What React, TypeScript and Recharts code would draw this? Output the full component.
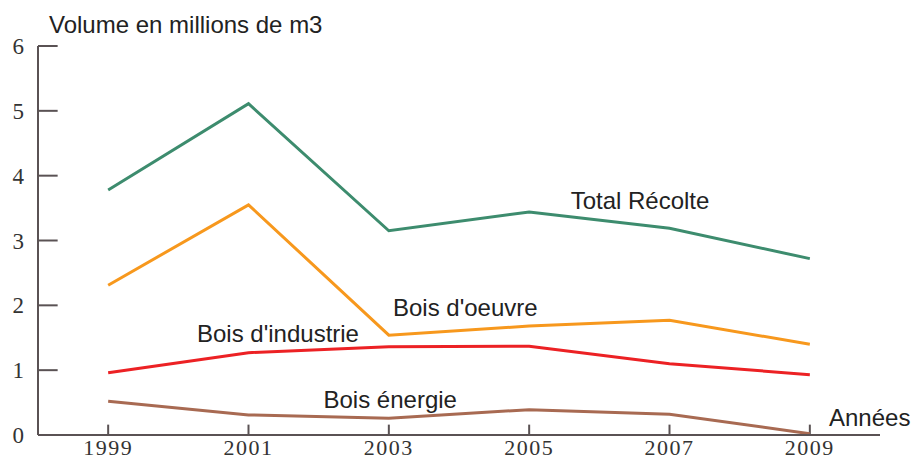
import React from 'react';
import { LineChart, Line, XAxis, YAxis, ReferenceLine, ReferenceDot } from 'recharts';

const years = [1999, 2001, 2003, 2005, 2007, 2009];
const totalRecolte = [3.78, 5.11, 3.15, 3.44, 3.19, 2.72];
const boisOeuvre = [2.31, 3.55, 1.54, 1.68, 1.77, 1.40];
const boisIndustrie = [0.96, 1.27, 1.36, 1.37, 1.10, 0.93];
const boisEnergie = [0.52, 0.31, 0.26, 0.39, 0.32, 0.02];
const yTicks = [0, 1, 2, 3, 4, 5, 6];

const data = years.map((y, i) => ({
  year: y,
  total: totalRecolte[i],
  oeuvre: boisOeuvre[i],
  industrie: boisIndustrie[i],
  energie: boisEnergie[i],
}));

const AXIS = '#5a5254';
const sans = '"Liberation Sans", Arial, sans-serif';
const serif = '"Liberation Serif", "Times New Roman", serif';

const seriesLabels = [
  { text: 'Total Récolte', x: 2006.58, y: 3.61 },
  { text: "Bois d'oeuvre", x: 2004.09, y: 1.96 },
  { text: "Bois d'industrie", x: 2001.42, y: 1.57 },
  { text: 'Bois énergie', x: 2003.02, y: 0.55 },
];

export default function App() {
  return (
    <div style={{ position: 'fixed', left: 0, top: 0, width: 911, height: 459, background: '#fff' }}>
      <LineChart width={911} height={459} data={data} margin={{ top: 46, right: 31, bottom: 0, left: 0 }}>
        <XAxis
          dataKey="year"
          type="number"
          domain={[1998, 2010]}
          ticks={years}
          allowDataOverflow
          height={24}
          stroke={AXIS}
          strokeWidth={2}
          tickLine={false}
          tickSize={0}
          tickMargin={4}
          tick={{ fill: '#333', fontFamily: serif, fontSize: 22, letterSpacing: 1.5 }}
        />
        <YAxis
          domain={[0, 6]}
          ticks={yTicks}
          width={38}
          stroke={AXIS}
          strokeWidth={2}
          tickLine={false}
          tickSize={0}
          tickMargin={14}
          tick={{ fill: '#333', fontFamily: serif, fontSize: 23 }}
        />
        {yTicks.map((t) => (
          <ReferenceLine key={'yt' + t} segment={[{ x: 1998, y: t }, { x: 1998.28, y: t }]} stroke={AXIS} strokeWidth={2} ifOverflow="visible" />
        ))}
        {years.map((y) => (
          <ReferenceLine key={'xt' + y} segment={[{ x: y, y: 0 }, { x: y, y: 0.16 }]} stroke={AXIS} strokeWidth={2} ifOverflow="visible" />
        ))}
        <Line dataKey="total" stroke="#3d8c6e" strokeWidth={3} dot={false} isAnimationActive={false} />
        <Line dataKey="oeuvre" stroke="#f7981d" strokeWidth={3} dot={false} isAnimationActive={false} />
        <Line dataKey="industrie" stroke="#ec2124" strokeWidth={3} dot={false} isAnimationActive={false} />
        <Line dataKey="energie" stroke="#a86a52" strokeWidth={3} dot={false} isAnimationActive={false} />
        {seriesLabels.map((l) => (
          <ReferenceDot
            key={l.text}
            x={l.x}
            y={l.y}
            r={0}
            ifOverflow="visible"
            label={{ value: l.text, position: 'center', fill: '#222', fontFamily: sans, fontSize: 24 }}
          />
        ))}
      </LineChart>
      <div style={{ position: 'absolute', left: 49, top: 11, fontFamily: sans, fontSize: 24, color: '#222', whiteSpace: 'nowrap', lineHeight: '28px' }}>
        Volume en millions de m3
      </div>
      <div style={{ position: 'absolute', left: 829, top: 404, fontFamily: sans, fontSize: 24, color: '#222', whiteSpace: 'nowrap', lineHeight: '28px' }}>
        Années
      </div>
    </div>
  );
}
